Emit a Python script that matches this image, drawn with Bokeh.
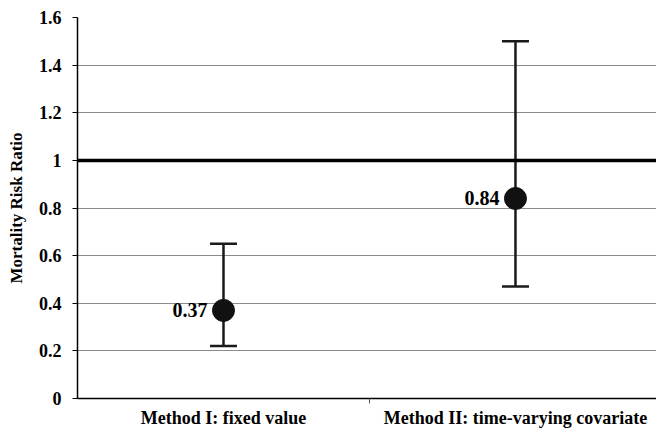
from bokeh.plotting import figure
from bokeh.models import ColumnDataSource, Whisker, TeeHead, FixedTicker, Span, Range1d
from bokeh.embed import file_html
from bokeh.resources import INLINE
from bokeh.core.properties import value

methods = ["Method I: fixed value", "Method II: time-varying covariate"]
ratio = [0.37, 0.84]
lower = [0.22, 0.47]
upper = [0.65, 1.50]
ratio_labels = ["0.37", "0.84"]
y_ticks = [0, 0.2, 0.4, 0.6, 0.8, 1.0, 1.2, 1.4, 1.6]
y_tick_labels = ["0", "0.2", "0.4", "0.6", "0.8", "1", "1.2", "1.4", "1.6"]

xpos = [i + 0.5 for i in range(len(methods))]
src = ColumnDataSource(dict(x=xpos, y=ratio, lo=lower, hi=upper, lab=ratio_labels))

FONT = "Liberation Serif"
p = figure(frame_width=579, frame_height=381, output_backend="svg", toolbar_location=None,
           x_range=Range1d(0, 1.983), y_range=Range1d(0, 1.6),
           min_border_left=77, min_border_right=0, min_border_top=17, min_border_bottom=32)
p.outline_line_color = None
p.background_fill_color = "white"

# axes
p.yaxis.ticker = FixedTicker(ticks=y_ticks)
p.yaxis.major_label_overrides = {t: l for t, l in zip(y_ticks, y_tick_labels)}
p.yaxis.major_label_text_font = FONT
p.yaxis.major_label_text_font_style = "bold"
p.yaxis.major_label_text_font_size = "18px"
p.yaxis.major_label_text_color = "black"
p.yaxis.major_tick_in = 0
p.yaxis.major_tick_out = 5
p.yaxis.minor_tick_line_color = None
p.yaxis.axis_line_color = "black"
p.yaxis.axis_line_width = 1.5
p.yaxis.major_tick_line_color = "black"
p.yaxis.major_label_standoff = 11
p.yaxis.axis_label = "Mortality Risk Ratio"
p.yaxis.axis_label_text_font = FONT
p.yaxis.axis_label_text_font_style = "bold"
p.yaxis.axis_label_text_font_size = "17px"
p.yaxis.axis_label_text_color = "black"
p.yaxis.axis_label_standoff = 10

p.xaxis.ticker = FixedTicker(ticks=xpos, minor_ticks=[1.0])
p.xaxis.major_label_overrides = {x: m for x, m in zip(xpos, methods)}
p.xaxis.major_label_text_font = FONT
p.xaxis.major_label_text_font_style = "bold"
p.xaxis.major_label_text_font_size = "18px"
p.xaxis.major_label_text_color = "black"
p.xaxis.major_tick_line_color = None
p.xaxis.major_tick_in = 0
p.xaxis.major_tick_out = 0
p.xaxis.minor_tick_in = 0
p.xaxis.minor_tick_out = 5
p.xaxis.minor_tick_line_color = "#555555"
p.xaxis.axis_line_color = "black"
p.xaxis.axis_line_width = 1.5
p.xaxis.major_label_standoff = 4

p.xgrid.grid_line_color = None
p.ygrid.ticker = FixedTicker(ticks=y_ticks)
p.ygrid.grid_line_color = "#8c8c8c"
p.ygrid.grid_line_width = 1

p.add_layout(Span(location=1.0, dimension="width", line_color="black", line_width=3.5))

w = Whisker(source=src, base="x", lower="lo", upper="hi", line_color="#1a1a1a", line_width=2.5,
            upper_head=TeeHead(size=27, line_color="#1a1a1a", line_width=2.5),
            lower_head=TeeHead(size=27, line_color="#1a1a1a", line_width=2.5))
p.add_layout(w)

p.scatter("x", "y", source=src, size=22, fill_color="#111111", line_color="#111111")
p.text("x", "y", text="lab", source=src, x_offset=-16, text_align="right", text_baseline="middle",
       text_font=value(FONT), text_font_style="bold", text_font_size="20px", text_color="black")

open("out.html", "w").write(file_html(p, INLINE))
